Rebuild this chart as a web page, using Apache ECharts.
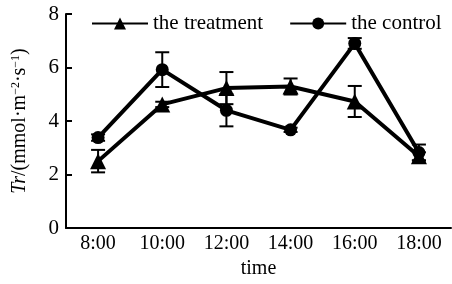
<!DOCTYPE html>
<html>
<head>
<meta charset="utf-8">
<script src="https://cdn.jsdelivr.net/npm/echarts@6/dist/echarts.min.js"></script>
<style>
html, body { margin: 0; padding: 0; background: #fff; }
#main { width: 452px; height: 284px; }
</style>
</head>
<body>
<div id="main"></div>
<script>
var times = ['8:00', '10:00', '12:00', '14:00', '16:00', '18:00'];
var treatment = [2.5, 4.62, 5.23, 5.29, 4.73, 2.68];
var treatmentErr = [0.42, 0.1, 0.6, 0.3, 0.58, 0.15];
var control = [3.38, 5.92, 4.4, 3.67, 6.9, 2.82];
var controlErr = [0.12, 0.65, 0.6, 0.08, 0.2, 0.3];
var yTicks = [0, 2, 4, 6, 8];

var font = 'Liberation Serif';

function errData(vals, errs) {
    var out = [];
    for (var i = 0; i < vals.length; i++) {
        out.push([i, vals[i] - errs[i], vals[i] + errs[i]]);
    }
    return out;
}

// vertical bar with caps, drawn through the axis scales
function renderErr(params, api) {
    var lo = api.coord([api.value(0), api.value(1)]);
    var hi = api.coord([api.value(0), api.value(2)]);
    var w = 7;
    var st = { stroke: '#000', lineWidth: 2 };
    return {
        type: 'group',
        children: [
            { type: 'line', shape: { x1: lo[0], y1: lo[1], x2: hi[0], y2: hi[1] }, style: st },
            { type: 'line', shape: { x1: lo[0] - w, y1: lo[1], x2: lo[0] + w, y2: lo[1] }, style: st },
            { type: 'line', shape: { x1: hi[0] - w, y1: hi[1], x2: hi[0] + w, y2: hi[1] }, style: st }
        ]
    };
}

var myChart = echarts.init(document.getElementById('main'));

var option = {
    animation: false,
    backgroundColor: '#fff',
    textStyle: { fontFamily: font, color: '#000' },
    grid: { left: 66, right: 1, top: 14, bottom: 55 },
    legend: {
        left: 86,
        top: 8,
        itemWidth: 56,
        itemHeight: 15,
        itemGap: 26,
        data: ['the treatment', 'the control'],
        textStyle: { fontFamily: font, fontSize: 21, color: '#000' }
    },
    xAxis: {
        type: 'category',
        data: times,
        boundaryGap: true,
        name: 'time',
        nameLocation: 'middle',
        nameGap: 31,
        nameTextStyle: { fontFamily: font, fontSize: 20, color: '#000' },
        axisLine: { lineStyle: { color: '#000', width: 2 } },
        axisTick: { inside: true, length: 6, lineStyle: { color: '#000', width: 2 } },
        axisLabel: { fontFamily: font, fontSize: 20, color: '#000', margin: 6 },
        splitLine: { show: false }
    },
    yAxis: {
        type: 'value',
        min: yTicks[0],
        max: yTicks[yTicks.length - 1],
        interval: 2,
        name: '{it|Tr}{n|/(mmol·m}{sup|−2}{n|·s}{sup|−1}{n|)}',
        nameLocation: 'middle',
        nameGap: 36,
        nameRotate: 90,
        nameTextStyle: {
            rich: {
                it: { fontFamily: font, fontSize: 20, fontStyle: 'italic', color: '#000' },
                n: { fontFamily: font, fontSize: 20, color: '#000' },
                sup: { fontFamily: font, fontSize: 12, color: '#000', verticalAlign: 'top', padding: [0, 0, 8, 0] }
            }
        },
        axisLine: { show: true, lineStyle: { color: '#000', width: 2 } },
        axisTick: { show: true, inside: true, length: 6, lineStyle: { color: '#000', width: 2 } },
        axisLabel: { fontFamily: font, fontSize: 21, color: '#000', margin: 7 },
        splitLine: { show: false }
    },
    series: [
        {
            name: 'the treatment',
            type: 'line',
            data: treatment,
            symbol: 'triangle',
            symbolSize: 16,
            lineStyle: { color: '#000', width: 4 },
            itemStyle: { color: '#000' },
            z: 3
        },
        {
            name: 'the control',
            type: 'line',
            data: control,
            symbol: 'circle',
            symbolSize: 13,
            lineStyle: { color: '#000', width: 4 },
            itemStyle: { color: '#000' },
            z: 3
        },
        {
            name: 'treatmentErr',
            type: 'custom',
            renderItem: renderErr,
            data: errData(treatment, treatmentErr),
            z: 2
        },
        {
            name: 'controlErr',
            type: 'custom',
            renderItem: renderErr,
            data: errData(control, controlErr),
            z: 2
        }
    ]
};

myChart.setOption(option);
</script>
</body>
</html>
